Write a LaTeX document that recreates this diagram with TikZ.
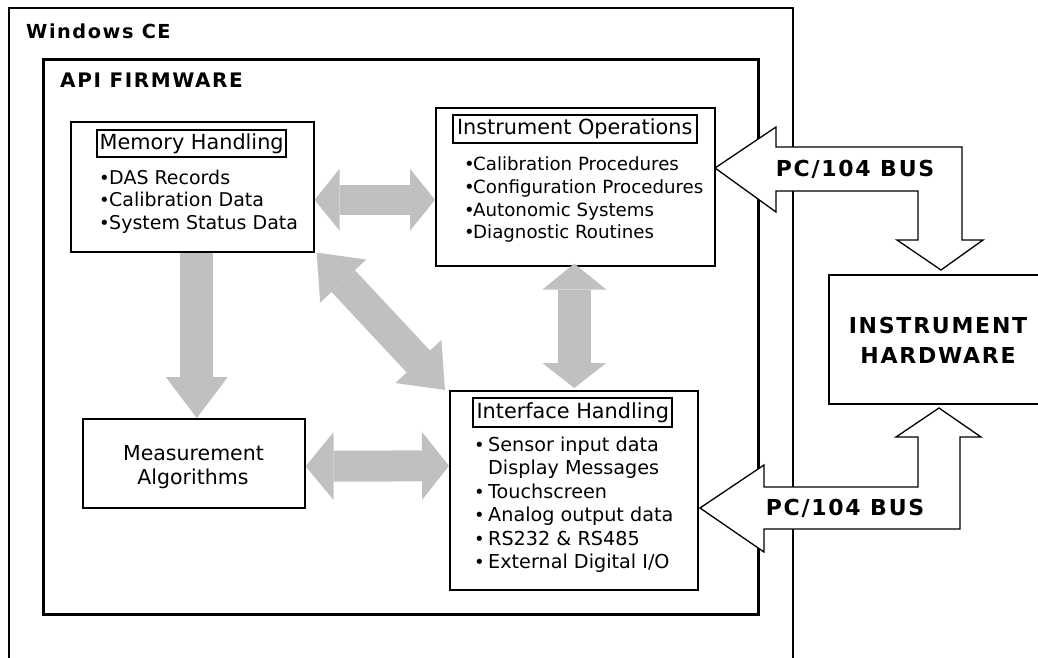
\documentclass[tikz,border=0pt]{standalone}
\usepackage{fontspec}
\setmainfont{DejaVu Sans}
\newfontfamily\hdrfont{DejaVu Sans}[LetterSpace=8]
\usetikzlibrary{arrows.meta}
\definecolor{arrowgray}{RGB}{192,192,192}
\begin{document}
\begin{tikzpicture}[x=1pt,y=-1pt,
  box/.style={draw, line width=1.6pt, inner sep=0pt, anchor=north west},
  ttl/.style={draw, line width=1.8pt, inner sep=0pt, font=\fontsize{20.8}{22}\selectfont},
  txt/.style={anchor=base west, inner sep=0pt, font=\fontsize{19}{20}\selectfont},
  otxt/.style={txt, font=\fontsize{18.2}{20}\selectfont},
  itxt/.style={txt, font=\fontsize{19.2}{20}\selectfont},
  bul/.style={anchor=base west, inner sep=0pt, font=\fontsize{18}{18}\selectfont},
  ctxt/.style={anchor=base, inner sep=0pt, font=\fontsize{20.5}{22}\selectfont},
  hdr/.style={anchor=base west, inner sep=0pt, font=\hdrfont\bfseries\fontsize{19.3}{20}\selectfont},
  bus/.style={anchor=base, inner sep=0pt, font=\hdrfont\bfseries\fontsize{22}{24}\selectfont},
  garrow/.style={draw=arrowgray, line width=#1},
  busarrow/.style={fill=white, draw=black, line width=1.3pt, line join=miter}
]
\useasboundingbox (0,0) rectangle (1038,658);
% outer frames
\node[box, line width=2.4pt, minimum width=784, minimum height=700] (wce) at (8,7) {};
\node[hdr] (wcet) at (26,38.3) {Windows CE};
\node[box, line width=3pt, minimum width=715, minimum height=555] (fw) at (42,58) {};
\node[hdr, font=\hdrfont\bfseries\fontsize{20}{24}\selectfont] (fwt) at (60,87.3) {API FIRMWARE};

% boxes
\node[box, minimum width=243, minimum height=130] (mem) at (70,121) {};
\node[box, minimum width=279, minimum height=158] (ops) at (435,107) {};
\node[box, minimum width=248, minimum height=199] (ifc) at (449,390) {};
\node[box, minimum width=222, minimum height=89] (meas) at (82,418) {};
\node[box, minimum width=230, minimum height=129] (hw) at (828,274) {};

% titles
\node[ttl, minimum width=189, minimum height=27.3] (memt) at (191.7,143.7) {Memory Handling};
\node[ttl, minimum width=244, minimum height=28.3] (opst) at (574.7,129.2) {Instrument Operations};
\node[ttl, minimum width=199, minimum height=28.4] (ifct) at (572.8,412.5) {Interface Handling};

% memory items
\node[bul] (mb1) at (99,184) {•};
\node[txt] (m1) at (109,184) {DAS Records};
\node[bul] (mb2) at (99,206.7) {•};
\node[txt] (m2) at (109,206.7) {Calibration Data};
\node[bul] (mb3) at (99,229.4) {•};
\node[txt] (m3) at (109,229.4) {System Status Data};

% operations items
\node[bul] (ob1) at (464,170) {•};
\node[otxt] (o1) at (473,170) {Calibration Procedures};
\node[bul] (ob2) at (464,193.3) {•};
\node[otxt] (o2) at (473,193.3) {Configuration Procedures};
\node[bul] (ob3) at (464,216.7) {•};
\node[otxt] (o3) at (473,216.7) {Autonomic Systems};
\node[bul] (ob4) at (464,238.3) {•};
\node[otxt] (o4) at (473,238.3) {Diagnostic Routines};

% interface items
\node[bul] (ib1) at (474,451.7) {•};
\node[itxt] (i1) at (488,451.7) {Sensor input data};
\node[itxt] (i2) at (488,474.5) {Display Messages};
\node[bul] (ib3) at (474,498.3) {•};
\node[itxt] (i3) at (488,498.3) {Touchscreen};
\node[bul] (ib4) at (474,521.7) {•};
\node[itxt] (i4) at (488,521.7) {Analog output data};
\node[bul] (ib5) at (474,545) {•};
\node[itxt] (i5) at (488,545) {RS232 \& RS485};
\node[bul] (ib6) at (474,568.3) {•};
\node[itxt] (i6) at (488,568.3) {External Digital I/O};

% measurement
\node[ctxt] (ma1) at (193.5,460) {Measurement};
\node[ctxt] (ma2) at (193,484) {Algorithms};

% hardware
\node[bus] (hw1) at (938,333) {INSTRUMENT};
\node[bus] (hw2) at (938,363) {HARDWARE};

% gray arrows
\draw[garrow=30pt, {Triangle[length=25pt,width=62pt,line width=0pt]}-{Triangle[length=25pt,width=62pt,line width=0pt]}]
  ([yshift=-13pt]mem.east) -- ([yshift=-13pt]ops.west);
\draw[garrow=33pt, -{Triangle[length=41pt,width=62pt,line width=0pt]}]
  ([xshift=4.5pt]mem.south) -- ([xshift=3pt]meas.north);
\draw[garrow=32pt, {Triangle[length=39pt,width=63pt,line width=0pt]}-{Triangle[length=39pt,width=63pt,line width=0pt]}]
  ([xshift=2pt]mem.south east) -- ([xshift=-4pt]ifc.north west);
\draw[garrow=33pt, {Triangle[length=26pt,width=64pt,line width=0pt]}-{Triangle[length=25pt,width=64pt,line width=0pt]}]
  ([xshift=-1pt,yshift=3pt]ops.south) -- ([xshift=0.5pt,yshift=2pt]ifc.north);
\draw[garrow=31pt, {Triangle[length=28pt,width=68pt,line width=0pt]}-{Triangle[length=27pt,width=68pt,line width=0pt]}]
  ([yshift=-3pt]meas.east) -- ([yshift=24.5pt]ifc.west);

% PC/104 bus arrows
\filldraw[busarrow] (715,168) -- (776,127) -- (776,147) -- (962,147) -- (962,240) -- (983,240)
  -- (941,270) -- (897,240) -- (918,240) -- (918,191) -- (776,191) -- (776,212) -- cycle;
\node[bus] (bus1) at (855,176.7) {PC/104 BUS};
\filldraw[busarrow] (700,508) -- (764,465) -- (764,487) -- (918,487) -- (918,437) -- (896,437)
  -- (939,408) -- (981,437) -- (960,437) -- (960,529) -- (764,529) -- (764,552) -- cycle;
\node[bus] (bus2) at (845,515) {PC/104 BUS};
\end{tikzpicture}
\end{document}
